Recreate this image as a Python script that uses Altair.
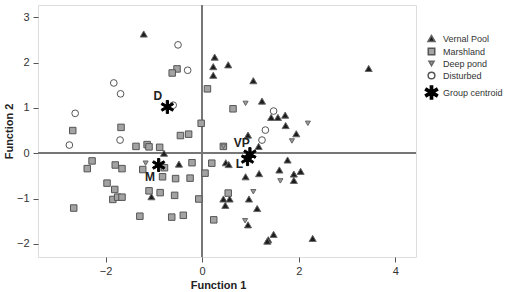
import math
import altair as alt
import pandas as pd

# ---- data ----
vernal_x = [-1.21, 0.26, 0.23, 0.23, 0.54, 1.06, 3.45, 1.24, 1.43, 1.57, 1.72, 1.73, 1.95, 0.95, 1.17,
            -0.79, -0.48, -1.05, 0.49, 0.55, 0.90, 1.18, 1.77, 1.60, 1.90, 2.04, 1.90, 0.44, 0.57,
            0.48, 0.97, 1.14, 0.95, 1.48, 1.37, 1.35, 2.29]
vernal_y = [2.63, 2.12, 1.91, 1.72, 1.95, 1.60, 1.87, 1.15, 0.79, 0.79, 0.84, 0.61, 0.43, 0.40, 0.15,
            0.00, -0.24, -0.96, -0.21, -0.25, -0.52, -0.45, -0.15, -0.37, -0.46, -0.40, -0.60, -1.01, -1.01,
            -1.15, -1.01, -1.22, -1.58, -1.79, -1.91, -1.94, -1.88]

marsh_x = [-0.52, -0.62, 0.11, 0.64, -0.02, -2.68, -1.68, -0.45, -0.28, -1.37, -1.14, -1.10, -0.88, 0.44,
           -2.28, -2.38, -1.80, -1.66, -1.23, -0.78, -0.21, 0.20, -0.82, -0.55, -0.25, 0.06, -1.97, -1.81,
           -1.85, -1.75, -1.66, -1.10, -0.87, -0.57, -0.07, 0.54, -2.66, -1.29, -0.63, -0.39, 0.24]
marsh_y = [1.86, 1.77, 1.42, 0.98, 0.66, 0.50, 0.57, 0.39, 0.42, 0.15, 0.19, 0.14, 0.13, 0.15,
           -0.17, -0.34, -0.26, -0.34, -0.36, -0.32, -0.21, -0.22, -0.52, -0.56, -0.55, -0.44, -0.66, -0.80,
           -1.02, -0.97, -0.97, -0.83, -0.87, -0.93, -1.01, -0.88, -1.21, -1.39, -1.41, -1.37, -1.47]

deep_x = [0.90, 2.19, 1.86, 0.44, -1.17, 1.62, 1.06, 0.89]
deep_y = [1.10, 0.66, 0.27, 0.15, -0.22, -0.61, -0.85, -1.49]

dist_x = [-0.50, -0.30, -1.83, -1.69, -0.60, -2.63, -2.75, -1.70, 1.48, 1.31, 1.24]
dist_y = [2.39, 1.83, 1.55, 1.31, 1.06, 0.88, 0.18, 0.29, 0.93, 0.51, 0.29]

cent_label = ["D", "M", "VP", "L"]
cent_x = [-0.72, -0.90, 0.99, 0.94]
cent_y = [1.02, -0.26, -0.02, -0.13]
label_x = [-0.92, -1.08, 0.82, 0.77]
label_y = [1.27, -0.52, 0.22, -0.24]

groups = ["Vernal Pool", "Marshland", "Deep pond", "Disturbed", "Group centroid"]

# ---- build tables ----
rows = []
for g, xs, ys in [("Vernal Pool", vernal_x, vernal_y), ("Marshland", marsh_x, marsh_y),
                  ("Deep pond", deep_x, deep_y), ("Disturbed", dist_x, dist_y),
                  ("Group centroid", cent_x, cent_y)]:
    for a, b in zip(xs, ys):
        rows.append({"x": a, "y": b, "group": g})
pts = pd.DataFrame(rows)
labels = pd.DataFrame({"label": cent_label, "x": label_x, "y": label_y})


def asterisk(w=0.34):
    p = []
    for k in range(6):
        a = math.radians(90 + 60 * k)
        ux, uy = math.cos(a), math.sin(a)
        nx, ny = -math.sin(a), math.cos(a)
        p.append((ux - nx * w / 2, uy - ny * w / 2))
        p.append((ux + nx * w / 2, uy + ny * w / 2))
        b = a + math.radians(30)
        p.append((w * math.cos(b), w * math.sin(b)))
    s = "M" + "L".join(f"{x:.3f},{-y:.3f}" for x, y in p) + "Z"
    return s


FONT = "Liberation Sans"
xs = alt.Scale(domain=[-3.40, 4.43], nice=False, zero=False)
ys = alt.Scale(domain=[-2.29, 3.27], nice=False, zero=False)

xaxis = alt.Axis(values=[-2, 0, 2, 4], title="Function 1", grid=False, domain=False,
                 tickSize=5, tickColor="#555", labelFont=FONT, labelFontSize=11, labelColor="#333",
                 labelPadding=3,
                 titleFont=FONT, titleFontSize=11, titleFontWeight="bold", titleColor="#222",
                 titleX=180, titlePadding=3)
yaxis = alt.Axis(values=[-2, -1, 0, 1, 2, 3], title="Function 2", grid=False, domain=False,
                 tickSize=5, tickColor="#555", labelFont=FONT, labelFontSize=11, labelColor="#333",
                 labelPadding=4,
                 titleFont=FONT, titleFontSize=11, titleFontWeight="bold", titleColor="#222",
                 titlePadding=2)

zero_x = alt.Chart(pts).mark_rule(color="#777", strokeWidth=1.3).encode(x=alt.datum(0, scale=xs))
zero_y = alt.Chart(pts).mark_rule(color="#777", strokeWidth=1.3).encode(y=alt.datum(0, scale=ys))

legend = alt.Legend(title=None, orient="none", legendX=386, legendY=29, labelFont=FONT,
                    labelFontSize=9, labelColor="#333", rowPadding=0, labelOffset=4, padding=0)

points = alt.Chart(pts).mark_point(filled=True, opacity=1, strokeWidth=1).encode(
    x=alt.X("x:Q", scale=xs, axis=xaxis),
    y=alt.Y("y:Q", scale=ys, axis=yaxis),
    shape=alt.Shape("group:N", scale=alt.Scale(domain=groups, range=[
        "triangle-up", "square", "triangle-down", "circle", asterisk()]), legend=legend),
    fill=alt.Fill("group:N", scale=alt.Scale(domain=groups, range=[
        "#1c1c1c", "#a3a3a3", "#9a9a9a", "#ffffff", "#000000"]), legend=legend),
    stroke=alt.Stroke("group:N", scale=alt.Scale(domain=groups, range=[
        "#666666", "#555555", "#666666", "#555555", "#000000"]), legend=legend),
    size=alt.Size("group:N", scale=alt.Scale(type="ordinal", domain=groups,
                                             range=[50, 42, 26, 45, 170]), legend=legend),
)

text = alt.Chart(labels).mark_text(font=FONT, fontSize=12, fontWeight="bold", color="#222").encode(
    x=alt.X("x:Q", scale=xs), y=alt.Y("y:Q", scale=ys), text="label:N")

chart = alt.layer(zero_x, zero_y, points, text).properties(
    width=378, height=252,
    autosize=alt.AutoSizeParams(type="none"),
    padding={"left": 38, "top": 5, "right": 89, "bottom": 35},
).configure_view(stroke="#7a7a7a", strokeWidth=1.5).configure(background="white")

chart.save("out.html", embed_options={"renderer": "svg", "actions": False})
